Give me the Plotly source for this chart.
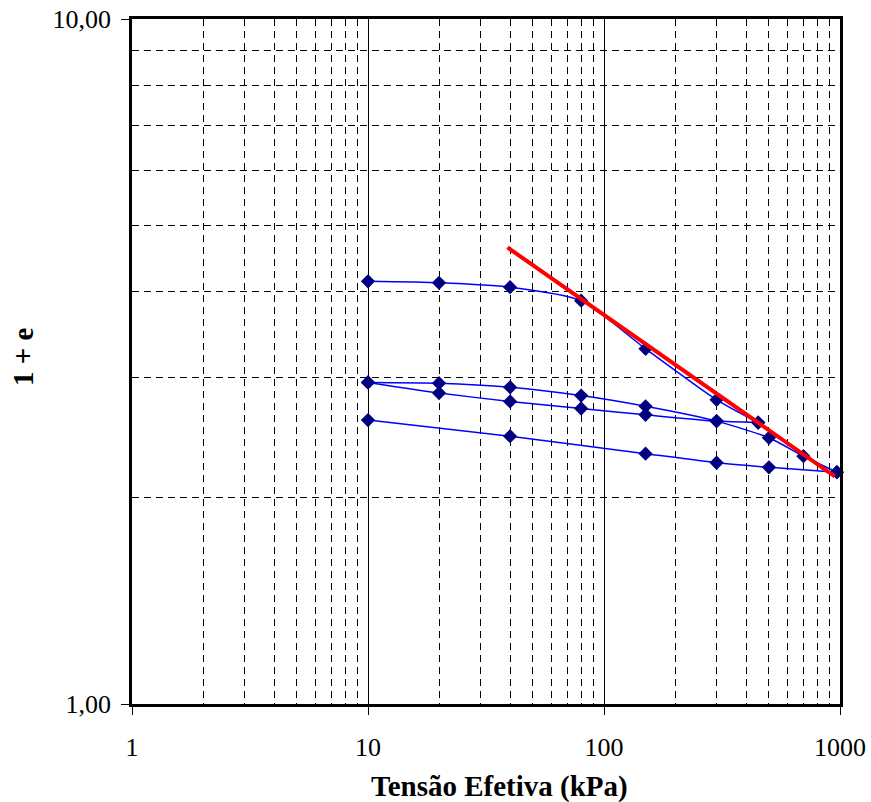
import plotly.graph_objects as go

# ---- data ----
load_x = [10, 20, 40, 80, 150, 300, 450]
load_y = [4.14, 4.12, 4.06, 3.88, 3.30, 2.78, 2.575]

unload1_x = [450, 300, 150, 80, 40, 20, 10]
unload1_y = [2.575, 2.588, 2.644, 2.70, 2.765, 2.844, 2.947]

reload_x = [10, 20, 40, 80, 150, 300, 500, 700, 970]
reload_y = [2.947, 2.94, 2.90, 2.82, 2.72, 2.588, 2.447, 2.30, 2.18]

unload2_x = [970, 500, 300, 150, 40, 10]
unload2_y = [2.18, 2.216, 2.25, 2.32, 2.46, 2.597]

cc_x = [39, 950]
cc_y = [4.64, 2.15]

x_ticks = [1, 10, 100, 1000]
x_labels = ["1", "10", "100", "1000"]
y_ticks = [1, 10]
y_labels = ["1,00", "10,00"]
x_minor = [2, 3, 4, 5, 6, 7, 8, 9, 20, 30, 40, 50, 60, 70, 80, 90,
           200, 300, 400, 500, 600, 700, 800, 900]
y_minor = [2, 3, 4, 5, 6, 7, 8, 9]

x_title = "<b>Tensão Efetiva (kPa)</b>"
y_title = "<b>1 + e</b>"

FONT = "Liberation Serif, Times New Roman, serif"

fig = go.Figure()
for xs, ys in [(load_x, load_y), (unload1_x, unload1_y),
               (reload_x, reload_y), (unload2_x, unload2_y)]:
    fig.add_trace(go.Scatter(
        x=xs, y=ys, mode="lines+markers",
        line=dict(color="#0000FF", width=1.5, shape="spline", smoothing=0.6),
        marker=dict(symbol="diamond", size=11, color="#000080"),
        showlegend=False, cliponaxis=False))

fig.add_trace(go.Scatter(
    x=cc_x, y=cc_y, mode="lines",
    line=dict(color="#FF0000", width=4),
    showlegend=False))

axis_common = dict(
    type="log", automargin=False, ticklabeloverflow="allow",
    showline=True, linecolor="black", linewidth=2.5, mirror=True,
    ticks="outside", ticklen=8, tickcolor="black", tickwidth=1,
    showgrid=True, gridcolor="black", gridwidth=1,
    zeroline=False,
    tickfont=dict(family=FONT, size=26, color="black"),
)

fig.update_xaxes(
    **axis_common,
    range=[0, 3],
    tickmode="array", tickvals=x_ticks, ticktext=x_labels,
    ticklabelstandoff=10,
    minor=dict(tickmode="array", tickvals=x_minor, showgrid=True,
               gridcolor="black", gridwidth=1, griddash="7px,5px", ticks=""),
)
fig.update_yaxes(
    **axis_common,
    range=[0, 1],
    tickmode="array", tickvals=y_ticks, ticktext=y_labels,
    ticklabelstandoff=5,
    minor=dict(tickmode="array", tickvals=y_minor, showgrid=True,
               gridcolor="black", gridwidth=1, griddash="7px,5px", ticks=""),
)

W, H = 871, 802
L, R, T, B = 132, 31, 19, 98
plot_w = W - L - R
plot_h = H - T - B

fig.update_layout(
    width=W, height=H,
    margin=dict(l=L, r=R, t=T, b=B, pad=0, autoexpand=False),
    paper_bgcolor="white", plot_bgcolor="white",
    font=dict(family=FONT, color="black"),
    annotations=[
        dict(text=x_title, xref="paper", yref="paper",
             x=(499 - L) / plot_w, y=-(786 - T - plot_h) / plot_h,
             xanchor="center", yanchor="middle", showarrow=False,
             font=dict(family=FONT, size=29, color="black")),
        dict(text=y_title, xref="paper", yref="paper", textangle=-90,
             x=(23 - L) / plot_w, y=1 - (357 - T) / plot_h,
             xanchor="center", yanchor="middle", showarrow=False,
             font=dict(family=FONT, size=29, color="black")),
    ],
)

# remove the browser's default 8px page margin so the figure fills the window
fig.write_html("out.html",
               config={"displayModeBar": False},
               post_script="document.body.style.margin='0';")
